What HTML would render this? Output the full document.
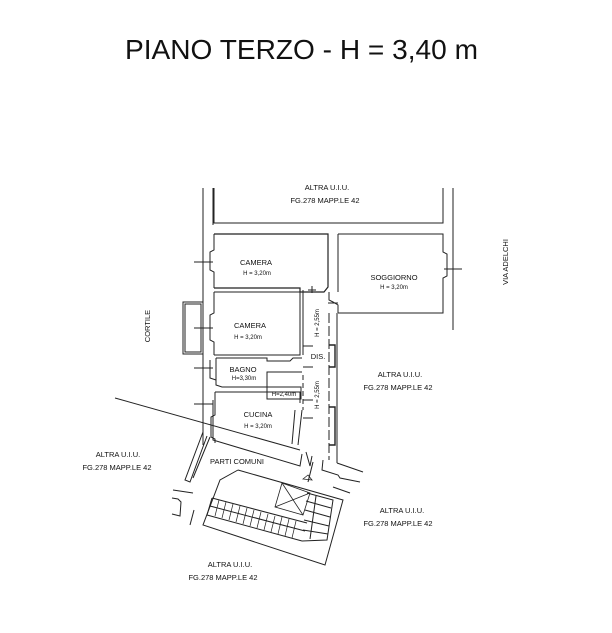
<!DOCTYPE html>
<html><head><style>
body{margin:0;background:#fff}
svg{display:block}
text{font-family:"Liberation Sans",sans-serif;fill:#111}
</style></head><body>
<svg width="612" height="633" viewBox="0 0 612 633" xmlns="http://www.w3.org/2000/svg">
<text x="125" y="59" font-size="28" textLength="353" lengthAdjust="spacingAndGlyphs">PIANO TERZO - H = 3,40 m</text>
<g stroke="#222" stroke-width="1" fill="none">
<line x1="203" y1="188" x2="203" y2="445"/>
<line x1="213" y1="188" x2="213" y2="225"/>
<polyline points="214,188 214,223 443,223 443,188"/>
<line x1="453" y1="188" x2="453" y2="330"/>
<polyline points="214,234 328,234 328,287 324,292 300,292 300,288 214,288" stroke-width="1.2"/>
<polyline points="214,234 214,250 210,252 210,270 214,272 214,288"/>
<polyline points="338,234 443,234 443,252 447,254 447,276 443,278 443,313 338,313"/>
<line x1="338" y1="234" x2="338" y2="292"/>
<polyline points="329,292 329,300 333,302 338,305 338,313"/>
<polyline points="214,292 300,292 300,355 214,355"/>
<polyline points="214,292 214,313 210,315 210,340 214,342 214,355"/>
<rect x="183" y="302" width="20" height="52"/>
<rect x="185" y="304" width="16" height="48"/>
<polyline points="216,358 267,358 267,361 290,361 293,358 302,358"/>
<polyline points="216,358 216,385 222,387 267,387 267,372 302,372"/>
<rect x="267" y="387" width="34" height="12"/>
<polyline points="210,360 210,378 216,380"/>
<polyline points="215,392 215,415 211,417 211,437 215,439 215,443"/>
<polyline points="215,392 300,392 300,403"/>
<line x1="303" y1="290" x2="303" y2="355"/>
<line x1="303" y1="375" x2="303" y2="410" stroke-dasharray="5,3"/>
<line x1="329" y1="313" x2="329" y2="460" stroke-dasharray="10,3"/>
<line x1="337" y1="313" x2="337" y2="463"/>
<polyline points="329,345 335,345 335,367 329,367" stroke-width="1.4"/>
<polyline points="329,407 335,407 335,445 329,445" stroke-width="1.4"/>
<polyline points="302,410 298,445"/>
<polyline points="295,410 292,444"/>
<line x1="115" y1="398" x2="300" y2="450"/>
<polyline points="213,400 213,440 300,466 302,454"/>
<polyline points="306,452 310,466 312,456"/>
<polyline points="337,463 363,472"/>
<polyline points="323,460 322,470 338,475 340,478 360,482"/>
<line x1="333" y1="487" x2="350" y2="493"/>
<polyline points="313,462 308,482"/>
<path d="M303,479 l5,-4 l4,5 z" stroke-width="0.8"/>
<polyline points="203,432 185,480 190,482 207,436"/>
<polyline points="210,437 193,478"/>
<line x1="173" y1="490" x2="193" y2="493"/>
<polyline points="172,498 178,499 181,502 180,516 172,514"/>
<line x1="194" y1="510" x2="190" y2="525"/>
<!-- stairs -->
<polyline points="238,470 343,500 325,565 203,525 220,480 238,470"/>
<line x1="212" y1="498" x2="307" y2="523"/>
<line x1="210" y1="506" x2="305" y2="531"/>
<line x1="207" y1="515" x2="302" y2="541"/>
<line x1="212" y1="498" x2="207" y2="515"/>
<polyline points="307,493 333,500 327,540 302,541"/>
<line x1="306" y1="501" x2="331" y2="508"/>
<line x1="305" y1="510" x2="330" y2="517"/>
<line x1="304" y1="520" x2="329" y2="526"/>
<line x1="303" y1="530" x2="328" y2="534"/>
<line x1="316" y1="496" x2="310" y2="539"/>
<g stroke-width="0.8">
<polyline points="282,483 310,493 303,515 275,507 282,483"/>
<line x1="282" y1="483" x2="303" y2="515"/>
<line x1="310" y1="493" x2="275" y2="507"/>
</g>
<g stroke-width="0.7">
<line x1="219" y1="500" x2="215" y2="516"/><line x1="226" y1="502" x2="222" y2="518"/>
<line x1="233" y1="504" x2="229" y2="520"/><line x1="240" y1="506" x2="236" y2="522"/>
<line x1="247" y1="508" x2="243" y2="524"/><line x1="254" y1="510" x2="250" y2="526"/>
<line x1="261" y1="512" x2="257" y2="528"/><line x1="268" y1="514" x2="264" y2="530"/>
<line x1="275" y1="516" x2="271" y2="532"/><line x1="282" y1="517" x2="278" y2="534"/>
<line x1="289" y1="519" x2="285" y2="536"/><line x1="296" y1="521" x2="292" y2="538"/>
</g>
<line x1="194" y1="262" x2="213" y2="262"/>
<line x1="194" y1="328" x2="213" y2="328"/>
<line x1="194" y1="368" x2="213" y2="368"/>
<line x1="194" y1="404" x2="213" y2="404"/>
<line x1="444" y1="269" x2="462" y2="269"/>
<line x1="312" y1="286" x2="312" y2="293"/>
<line x1="308" y1="290" x2="316" y2="290"/>
<line x1="303" y1="346" x2="313" y2="346"/><line x1="303" y1="367" x2="313" y2="367"/>
<line x1="303" y1="400" x2="313" y2="400"/><line x1="303" y1="418" x2="313" y2="418"/>
<line x1="328" y1="303" x2="338" y2="303"/>
</g>
<g font-size="7.5" text-anchor="middle">
<text x="327" y="190">ALTRA U.I.U.</text>
<text x="325" y="203">FG.278 MAPP.LE 42</text>
<text x="256" y="265">CAMERA</text>
<text x="257" y="275" font-size="6">H = 3,20m</text>
<text x="394" y="280">SOGGIORNO</text>
<text x="394" y="289" font-size="6">H = 3,20m</text>
<text x="250" y="328">CAMERA</text>
<text x="248" y="339" font-size="6">H = 3,20m</text>
<text x="318" y="359">DIS.</text>
<text x="243" y="372">BAGNO</text>
<text x="244" y="380" font-size="6">H=3,30m</text>
<text x="284" y="396" font-size="6">H=2,40m</text>
<text x="258" y="417">CUCINA</text>
<text x="258" y="428" font-size="6">H = 3,20m</text>
<text x="400" y="377">ALTRA U.I.U.</text>
<text x="398" y="390">FG.278 MAPP.LE 42</text>
<text x="237" y="464">PARTI COMUNI</text>
<text x="118" y="457">ALTRA U.I.U.</text>
<text x="117" y="470">FG.278 MAPP.LE 42</text>
<text x="402" y="513">ALTRA U.I.U.</text>
<text x="398" y="526">FG.278 MAPP.LE 42</text>
<text x="230" y="567">ALTRA U.I.U.</text>
<text x="223" y="580">FG.278 MAPP.LE 42</text>
<text x="0" y="0" font-size="6" transform="translate(319,323) rotate(-90)">H = 2,55m</text>
<text x="0" y="0" font-size="6" transform="translate(319,395) rotate(-90)">H = 2,55m</text>
<text x="0" y="0" transform="translate(150,326) rotate(-90)">CORTILE</text>
<text x="0" y="0" transform="translate(508,262) rotate(-90)">VIA ADELCHI</text>
</g>
</svg>
</body></html>
